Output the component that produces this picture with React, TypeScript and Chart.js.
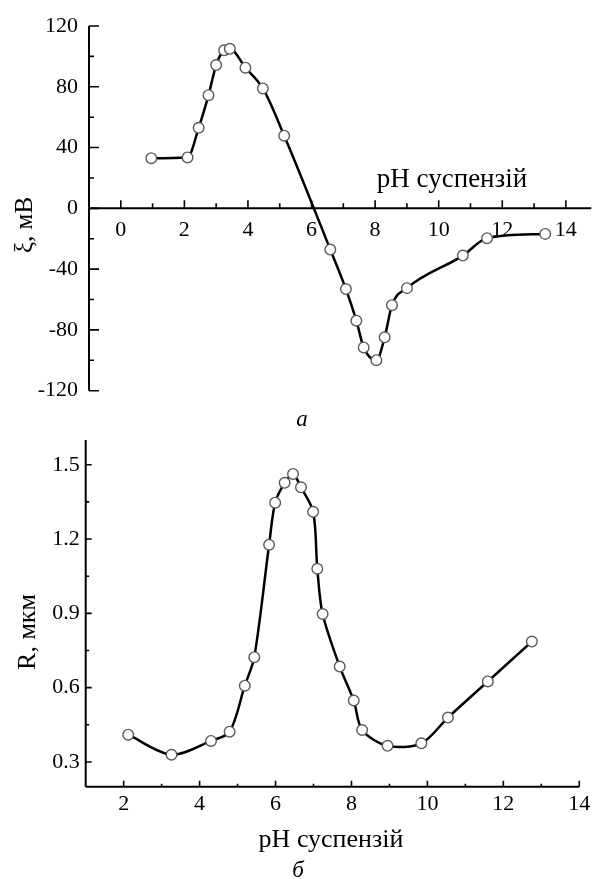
import React, { useEffect, useRef } from "react";
import { Chart, registerables } from "chart.js";
Chart.register(...registerables);

// ---- Panel a: zeta potential vs pH ----
const zetaPH = [0.96, 2.1, 2.45, 2.76, 3.0, 3.25, 3.43, 3.92, 4.47, 5.14, 6.59, 7.08, 7.41, 7.64, 8.04, 8.3, 8.53, 9.0, 10.76, 11.52, 13.35];
const zetaMV = [33, 33.5, 53, 74.5, 94.3, 104, 105, 92.6, 78.9, 47.8, -27.1, -53.1, -73.9, -91.5, -99.9, -84.9, -63.7, -52.5, -31.1, -19.6, -16.8];
const zetaXMajor = [0, 2, 4, 6, 8, 10, 12, 14];
const zetaXMinor = [1, 3, 5, 7, 9, 11, 13];
const zetaXLabels = ["0", "2", "4", "6", "8", "10", "12", "14"];
const zetaYMajor = [-120, -80, -40, 0, 40, 80, 120];
const zetaYMinor = [-100, -60, -20, 20, 60, 100];
const zetaYLabels = ["-120", "-80", "-40", "0", "40", "80", "120"];

// ---- Panel б: particle size vs pH ----
const radPH = [2.12, 3.26, 4.3, 4.79, 5.19, 5.44, 5.83, 5.99, 6.24, 6.46, 6.67, 6.99, 7.1, 7.24, 7.69, 8.06, 8.28, 8.95, 9.84, 10.54, 11.59, 12.75];
const radUM = [0.41, 0.329, 0.385, 0.422, 0.608, 0.723, 1.177, 1.347, 1.427, 1.463, 1.409, 1.31, 1.08, 0.897, 0.685, 0.548, 0.429, 0.365, 0.375, 0.479, 0.625, 0.786];
const radXMajor = [2, 4, 6, 8, 10, 12, 14];
const radXMinor = [3, 5, 7, 9, 11, 13];
const radXLabels = ["2", "4", "6", "8", "10", "12", "14"];
const radYMajor = [0.3, 0.6, 0.9, 1.2, 1.5];
const radYMinor = [0.45, 0.75, 1.05, 1.35];
const radYLabels = ["0.3", "0.6", "0.9", "1.2", "1.5"];

const FONT = '"Liberation Serif", "Times New Roman", serif';

type AxisCfg = {
  xAxisValue?: number;
  xMajor: number[]; xMinor: number[]; xLabels: string[];
  yMajor: number[]; yMinor: number[]; yLabels: string[];
  xMajorLen: number; xMinorLen: number; yMajorLen: number; yMinorLen: number;
  xLabelOffset: number; yLabelGap: number;
  texts: { text: string; x: number; y: number; font: string; rotate?: boolean }[];
};

function axesPlugin(o: AxisCfg) {
  return {
    id: "customAxes",
    beforeDatasetsDraw(chart: any) {
      const { ctx, chartArea } = chart;
      const { left, right, top, bottom } = chartArea;
      const x = chart.scales.x;
      const y = chart.scales.y;
      const axisY = o.xAxisValue !== undefined ? y.getPixelForValue(o.xAxisValue) : bottom;
      ctx.save();
      ctx.strokeStyle = "#000";
      ctx.lineWidth = 2;
      ctx.beginPath();
      ctx.moveTo(left, top);
      ctx.lineTo(left, bottom);
      ctx.moveTo(left, axisY);
      ctx.lineTo(right, axisY);
      ctx.stroke();
      ctx.lineWidth = 1.6;
      ctx.beginPath();
      o.xMajor.forEach((v) => {
        const px = x.getPixelForValue(v);
        ctx.moveTo(px, axisY);
        ctx.lineTo(px, axisY - o.xMajorLen);
      });
      o.xMinor.forEach((v) => {
        const px = x.getPixelForValue(v);
        ctx.moveTo(px, axisY);
        ctx.lineTo(px, axisY - o.xMinorLen);
      });
      o.yMajor.forEach((v) => {
        const py = y.getPixelForValue(v);
        ctx.moveTo(left, py);
        ctx.lineTo(left + o.yMajorLen, py);
      });
      o.yMinor.forEach((v) => {
        const py = y.getPixelForValue(v);
        ctx.moveTo(left, py);
        ctx.lineTo(left + o.yMinorLen, py);
      });
      ctx.stroke();
      ctx.fillStyle = "#000";
      ctx.font = `22px ${FONT}`;
      ctx.textAlign = "center";
      ctx.textBaseline = "middle";
      o.xMajor.forEach((v, i) => {
        ctx.fillText(o.xLabels[i], x.getPixelForValue(v), axisY + o.xLabelOffset);
      });
      ctx.textAlign = "right";
      o.yMajor.forEach((v, i) => {
        ctx.fillText(o.yLabels[i], left - o.yLabelGap, y.getPixelForValue(v));
      });
      ctx.restore();
    },
    afterDraw(chart: any) {
      const { ctx } = chart;
      ctx.save();
      ctx.fillStyle = "#000";
      o.texts.forEach((t) => {
        ctx.font = t.font;
        ctx.textAlign = "center";
        if (t.rotate) {
          ctx.save();
          ctx.translate(t.x, t.y);
          ctx.rotate(-Math.PI / 2);
          ctx.textBaseline = "middle";
          ctx.fillText(t.text, 0, 0);
          ctx.restore();
        } else {
          ctx.textBaseline = "alphabetic";
          ctx.fillText(t.text, t.x, t.y);
        }
      });
      ctx.restore();
    },
  };
}

function makeDataset(xs: number[], ys: number[], smooth: "monotone" | "default", tension: number) {
  return {
    data: xs.map((v, i) => ({ x: v, y: ys[i] })),
    showLine: true,
    borderColor: "#000",
    borderWidth: 2.5,
    cubicInterpolationMode: smooth,
    tension,
    pointRadius: 5.3,
    pointBackgroundColor: "#fff",
    pointBorderColor: "#5a5a5a",
    pointBorderWidth: 1.4,
    clip: false as any,
  };
}

function PanelChart(props: {
  width: number; height: number; top: number;
  xs: number[]; ys: number[];
  smooth: "monotone" | "default"; tension: number;
  xMin: number; xMax: number; yMin: number; yMax: number;
  padding: { left: number; right: number; top: number; bottom: number };
  axes: AxisCfg;
}) {
  const ref = useRef<HTMLCanvasElement | null>(null);
  useEffect(() => {
    if (!ref.current) return;
    const chart = new Chart(ref.current, {
      type: "scatter",
      data: { datasets: [makeDataset(props.xs, props.ys, props.smooth, props.tension) as any] },
      options: {
        animation: false,
        responsive: false,
        maintainAspectRatio: false,
        layout: { padding: props.padding },
        plugins: { legend: { display: false }, tooltip: { enabled: false } },
        scales: {
          x: { type: "linear", min: props.xMin, max: props.xMax, display: false },
          y: { type: "linear", min: props.yMin, max: props.yMax, display: false },
        },
      },
      plugins: [axesPlugin(props.axes)],
    });
    return () => chart.destroy();
  }, []);
  return (
    <canvas
      ref={ref}
      width={props.width}
      height={props.height}
      style={{ position: "absolute", left: 0, top: props.top, width: props.width, height: props.height, display: "block" }}
    />
  );
}

export default function App() {
  const W = 598;
  return (
    <div style={{ position: "fixed", left: 0, top: 0, width: W, height: 879, background: "#fff" }}>
      <PanelChart
        width={W}
        height={430}
        top={0}
        xs={zetaPH}
        ys={zetaMV}
        smooth="monotone"
        tension={0}
        xMin={-1}
        xMax={14.8}
        yMin={-120}
        yMax={120}
        padding={{ left: 89, right: 1, top: 26, bottom: 39.3 }}
        axes={{
          xAxisValue: 0,
          xMajor: zetaXMajor, xMinor: zetaXMinor, xLabels: zetaXLabels,
          yMajor: zetaYMajor, yMinor: zetaYMinor, yLabels: zetaYLabels,
          xMajorLen: 8, xMinorLen: 5, yMajorLen: 10, yMinorLen: 5,
          xLabelOffset: 22, yLabelGap: 11,
          texts: [
            { text: "pH суспензій", x: 452, y: 187, font: `27px ${FONT}` },
            { text: "a", x: 302, y: 426, font: `italic 23px ${FONT}` },
            { text: "ξ, мВ", x: 25, y: 225, font: `25px ${FONT}`, rotate: true },
          ],
        }}
      />
      <PanelChart
        width={W}
        height={449}
        top={430}
        xs={radPH}
        ys={radUM}
        smooth="default"
        tension={0.3}
        xMin={1}
        xMax={14}
        yMin={0.2}
        yMax={1.6}
        padding={{ left: 85.7, right: 18.7, top: 10, bottom: 92.3 }}
        axes={{
          xMajor: radXMajor, xMinor: radXMinor, xLabels: radXLabels,
          yMajor: radYMajor, yMinor: radYMinor, yLabels: radYLabels,
          xMajorLen: 6, xMinorLen: 3, yMajorLen: 6, yMinorLen: 3.5,
          xLabelOffset: 18, yLabelGap: 6,
          texts: [
            { text: "pH суспензій", x: 331, y: 417, font: `26px ${FONT}` },
            { text: "б", x: 298, y: 447, font: `italic 23px ${FONT}` },
            { text: "R, мкм", x: 28, y: 202, font: `26px ${FONT}`, rotate: true },
          ],
        }}
      />
    </div>
  );
}
